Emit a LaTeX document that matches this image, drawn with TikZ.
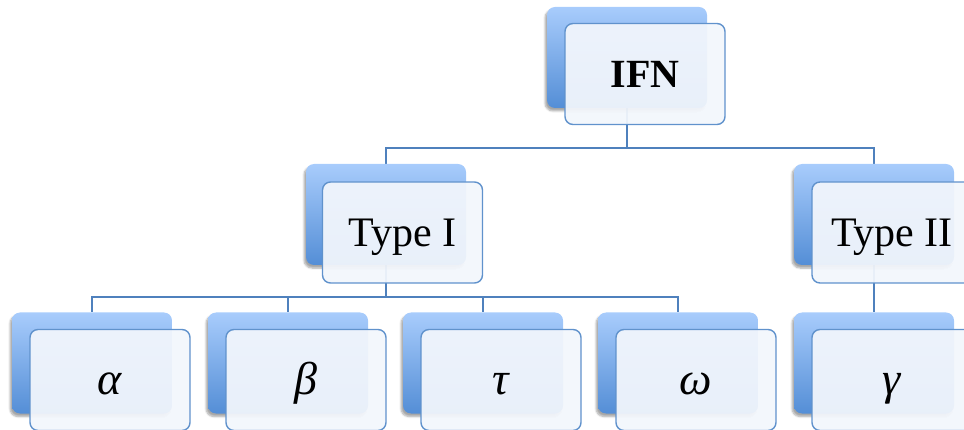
\documentclass[tikz,border=0pt]{standalone}
\usepackage{fontspec}
\setmainfont{Liberation Serif}
\usetikzlibrary{shadows.blur,backgrounds}

\definecolor{linkblue}{RGB}{79,129,189}
\definecolor{backtop}{RGB}{168,204,252}
\definecolor{backbot}{RGB}{84,142,214}
\definecolor{frontfill}{RGB}{242,246,252}
\definecolor{frontedge}{RGB}{96,146,204}

\tikzset{
  backbox/.style={rectangle, rounded corners=8pt, minimum width=160pt,
    minimum height=101pt, inner sep=0pt, top color=backtop,
    bottom color=backbot, draw=none,
    blur shadow={shadow xshift=-2pt, shadow yshift=-3pt,
      shadow blur steps=6, shadow opacity=35}},
  frontbox/.style={rectangle, rounded corners=8pt, minimum width=160pt,
    minimum height=101pt, inner sep=0pt, draw=frontedge, line width=1.4pt,
    fill=frontfill, fill opacity=0.94, text opacity=1,
    font=\fontsize{42}{50}\selectfont, text height=28pt, text depth=0pt},
  greek/.style={frontbox, font=\fontsize{46}{54}\selectfont\itshape},
  link/.style={draw=linkblue, line width=1.4pt}
}

\begin{document}
\begin{tikzpicture}[x=1pt, y=-1pt]
  \useasboundingbox (0,0) rectangle (964,430);

  % back (shaded) cards
  \node[backbox] (ifnB) at (627,57.5) {};
  \node[backbox] (t1B)  at (386,214.5) {};
  \node[backbox] (t2B)  at (874,214.5) {};
  \node[backbox] (aB)   at (92,363) {};
  \node[backbox] (bB)   at (288,363) {};
  \node[backbox] (tB)   at (483,363) {};
  \node[backbox] (oB)   at (678,363) {};
  \node[backbox] (gB)   at (874,363) {};

  % tree connectors, behind the cards
  \begin{pgfonlayer}{background}
    \draw[link] (ifnB.south) -- ++(0,40) coordinate (busA) -| (t1B.north)
                (busA) -| (t2B.north);
    \draw[link] (t1B.south) -- ++(0,32) coordinate (busB) -| (aB.north)
                (busB) -| (bB.north)
                (busB) -| (tB.north)
                (busB) -| (oB.north);
    \draw[link] (t2B.south) -- (gB.north);
  \end{pgfonlayer}

  % front (labelled) cards
  \node[frontbox] (ifn) at (645,74)    {\fontsize{40}{48}\selectfont\textbf{IFN}};
  \node[frontbox] (t1)  at (402.5,232.5) {Type I};
  \node[frontbox] (t2)  at (892,232.5) {Type II};
  \node[greek] (a)   at (110,380)   {α};
  \node[greek] (b)   at (306,380)   {β};
  \node[greek] (t)   at (501,380)   {τ};
  \node[greek] (o)   at (696,380)   {ω};
  \node[greek] (g)   at (892,380)   {γ};
\end{tikzpicture}
\end{document}
